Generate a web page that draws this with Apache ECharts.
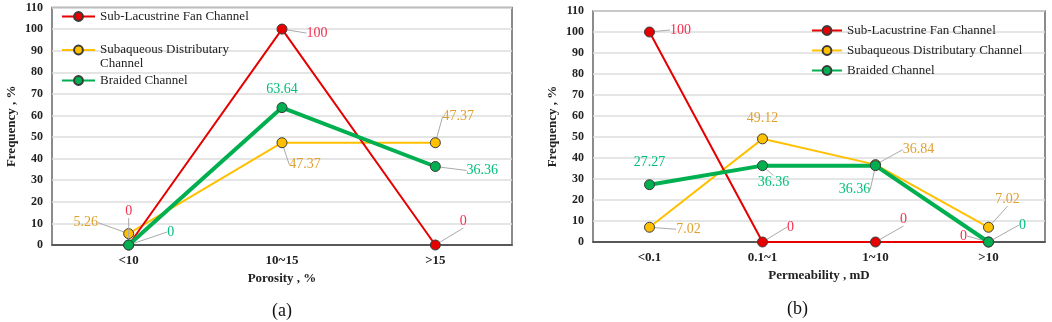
<!DOCTYPE html>
<html>
<head>
<meta charset="utf-8">
<script src="https://cdn.jsdelivr.net/npm/echarts@6/dist/echarts.min.js"></script>
<style>html,body{margin:0;padding:0;background:#fff}#c{width:1052px;height:322px}</style>
</head>
<body>
<div id="c"></div>
<script>
// ---- data ----
const porosityCats = ['<10', '10~15', '>15'];
const permCats = ['<0.1', '0.1~1', '1~10', '>10'];
const yTicks = [0, 10, 20, 30, 40, 50, 60, 70, 80, 90, 100, 110];
const seriesNames = ['Sub-Lacustrine Fan Channel', 'Subaqueous Distributary Channel', 'Braided Channel'];
const porFan = [0, 100, 0];
const porSub = [5.26, 47.37, 47.37];
const porBraid = [0, 63.64, 36.36];
const permFan = [100, 0, 0, 0];
const permSub = [7.02, 49.12, 36.84, 7.02];
const permBraid = [27.27, 36.36, 36.36, 0];

// ---- label offsets (style) ----
const off = {
  porFan: [[0,-34],[35,4],[28,-24]],
  porSub: [[-43,-11],[23,22],[23,-26]],
  porBraid: [[42,-13],[0,-18],[47,4]],
  permFan: [[31,-2],[28,-15],[28,-23],[-25,-6]],
  permSub: [[39,2],[0,-21],[43,-15],[19,-28]],
  permBraid: [[0,-22],[11,17],[-21,24],[34,-17]]
};

const SERIF = '"Liberation Serif","DejaVu Serif",serif';
const lineColors = ['#e60000', '#ffc000', '#00b050'];
const labelColors = ['#f5304f', '#e0a030', '#00c07a'];
const widths = [2, 2, 4];

function mkSeries(idx, vals, offs, gi) {
  return {
    name: seriesNames[idx],
    type: 'line',
    xAxisIndex: gi, yAxisIndex: gi,
    z: idx === 2 ? 4 : 3 - idx,
    data: vals.map((v, i) => ({
      value: v,
      labelLine: { show: !(offs[i][0] === 0 && Math.abs(offs[i][1]) < 25 && (idx !== 0)) }
    })),
    symbol: 'circle', symbolSize: 10,
    itemStyle: { color: lineColors[idx], borderColor: '#3a3a3a', borderWidth: 1 },
    lineStyle: { color: lineColors[idx], width: widths[idx] },
    label: {
      show: true, position: 'inside',
      color: labelColors[idx], fontFamily: SERIF, fontSize: 14
    },
    labelLine: { show: true, lineStyle: { color: '#aaaaaa', width: 1 } },
    labelLayout: function (p) {
      const o = offs[p.dataIndex];
      return { dx: o[0], dy: o[1] };
    }
  };
}

const axisNameStyle = { fontFamily: SERIF, fontSize: 13, fontWeight: 'bold', color: '#222' };

function yAxis(gi) {
  return {
    type: 'value', gridIndex: gi, min: yTicks[0], max: yTicks[yTicks.length - 1], interval: 10,
    name: 'Frequency , %', nameLocation: 'middle', nameGap: 34,
    nameTextStyle: axisNameStyle,
    axisLine: { show: false }, axisTick: { show: false },
    axisLabel: { margin: 9, fontFamily: SERIF, fontSize: 12, fontWeight: 'bold', color: '#222' },
    splitLine: { lineStyle: { color: '#dcdcdc', width: 1.5 } }
  };
}
function xAxis(gi, cats, name) {
  return {
    type: 'category', gridIndex: gi, data: cats, boundaryGap: true,
    name: name, nameLocation: 'middle', nameGap: 25,
    nameTextStyle: axisNameStyle,
    axisLine: { show: true, lineStyle: { color: '#333', width: 1.5 } },
    axisTick: { show: false },
    axisLabel: { margin: 9, fontFamily: SERIF, fontSize: 13, fontWeight: 'bold', color: '#222' }
  };
}

const legendText = { fontFamily: SERIF, fontSize: 13, color: '#222' };

const option = {
  animation: false,
  backgroundColor: '#fff',
  grid: [
    { left: 52, right: 540, top: 7.5, bottom: 77, show: true, borderColor: '#666', borderWidth: 1.5 },
    { left: 593, right: 7, top: 11, bottom: 80, show: true, borderColor: '#666', borderWidth: 1.5 }
  ],
  xAxis: [xAxis(0, porosityCats, 'Porosity , %'), xAxis(1, permCats, 'Permeability , mD')],
  yAxis: [yAxis(0), yAxis(1)],
  legend: [
    { data: [seriesNames[0]], left: 56, top: 5, itemWidth: 33, itemHeight: 11, textStyle: legendText },
    { data: [seriesNames[1]], left: 56, top: 24, itemWidth: 33, itemHeight: 11,
      formatter: () => '\u00a0\nSubaqueous Distributary\nChannel',
      textStyle: Object.assign({ lineHeight: 14 }, legendText) },
    { data: [seriesNames[2]], left: 56, top: 69, itemWidth: 33, itemHeight: 11, textStyle: legendText },
    { data: seriesNames, orient: 'vertical', left: 806, top: 19, itemGap: 7, itemWidth: 30, itemHeight: 11, textStyle: legendText }
  ],
  graphic: [
    { type: 'text', left: 272, top: 302, style: { text: '(a)', font: '18px ' + SERIF, fill: '#111' } },
    { type: 'text', left: 787, top: 300, style: { text: '(b)', font: '18px ' + SERIF, fill: '#111' } }
  ],
  series: [
    mkSeries(0, porFan, off.porFan, 0),
    mkSeries(1, porSub, off.porSub, 0),
    mkSeries(2, porBraid, off.porBraid, 0),
    mkSeries(0, permFan, off.permFan, 1),
    mkSeries(1, permSub, off.permSub, 1),
    mkSeries(2, permBraid, off.permBraid, 1)
  ]
};
echarts.init(document.getElementById('c'), null, { renderer: 'canvas' }).setOption(option);
</script>
</body>
</html>
